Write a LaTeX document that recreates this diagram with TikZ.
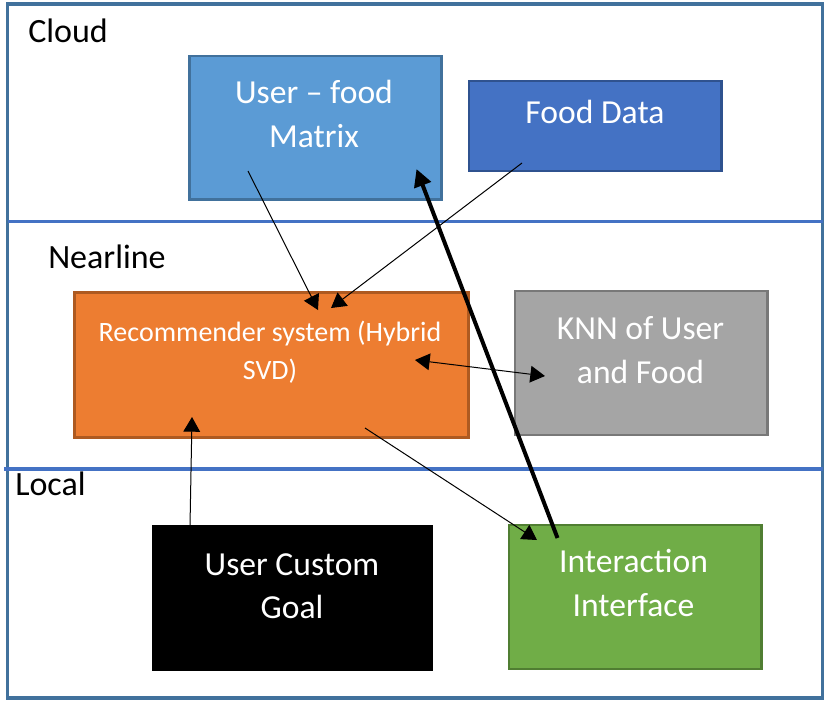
\documentclass[tikz,border=0pt]{standalone}
\usepackage{fontspec}
\setmainfont{Carlito}
\usetikzlibrary{arrows.meta,fit}
\definecolor{frameblue}{HTML}{41719C}
\definecolor{sepblue}{HTML}{4472C4}
\definecolor{umfill}{HTML}{5B9BD5}
\definecolor{umdraw}{HTML}{41719C}
\definecolor{fdfill}{HTML}{4472C4}
\definecolor{fddraw}{HTML}{2F528F}
\definecolor{rsfill}{HTML}{ED7D31}
\definecolor{rsdraw}{HTML}{AE5A21}
\definecolor{knnfill}{HTML}{A5A5A5}
\definecolor{knndraw}{HTML}{787878}
\definecolor{iifill}{HTML}{70AD47}
\definecolor{iidraw}{HTML}{507E32}
\tikzset{
  box/.style={rectangle, inner sep=0pt, line width=1.9pt},
  boxtext/.style={text=white, anchor=base, inner sep=0pt, font=\fontsize{25.2}{30}\selectfont},
  rstext/.style={text=white, anchor=base, inner sep=0pt, font=\fontsize{21}{25}\selectfont},
  region/.style={text=black, anchor=base west, inner sep=0pt, font=\fontsize{25.5}{30}\selectfont},
  thin arrow/.style={line width=0.75pt, -{Triangle[length=11pt,width=12.5pt]}},
  thick arrow/.style={line width=3pt, -{Triangle[length=13pt,width=13pt]}}
}
\begin{document}
\begin{tikzpicture}[x=0.75pt,y=-0.75pt]
\useasboundingbox (0,0) rectangle (834,701);
% frame and separators
\node[fit={(7.5,4) (822.5,698)}, inner sep=0pt, draw=frameblue, line width=2.3pt] (frame) {};
\draw[sepblue, line width=2.6pt] (7.5,221.7) -- (822.5,221.7);
\draw[sepblue, line width=2.6pt] (4,469) -- (822.5,469);
% region labels
\node[region] (cloud) at (28,42) {Cloud};
\node[region] (nearline) at (48,268.3) {Nearline};
\node[region] (local) at (15,495.7) {Local};
% boxes
\node[box, fill=umfill, draw=umdraw, fit={(189.5,56) (441.5,199.5)}] (um) {};
\node[box, fill=fdfill, draw=fddraw, fit={(469,81) (721.5,171)}] (fd) {};
\node[box, fill=rsfill, draw=rsdraw, fit={(74.5,292.5) (468.5,437.5)}] (rs) {};
\node[box, fill=knnfill, draw=knndraw, fit={(515,291) (767.5,435)}] (knn) {};
\node[box, fill=black, draw=black, fit={(153.5,526.5) (431.5,670)}] (ucg) {};
\node[box, fill=iifill, draw=iidraw, fit={(509,525) (761.5,669)}] (ii) {};
% box texts
\node[boxtext] (um1) at (314,103.3) {User – food};
\node[boxtext] (um2) at (314,147.7) {Matrix};
\node[boxtext] (fd1) at (595,123.3) {Food Data};
\node[rstext] (rs1) at (270,341.7) {Recommender system (Hybrid};
\node[rstext] (rs2) at (270,379) {SVD)};
\node[boxtext] (knn1) at (640.5,339.3) {KNN of User};
\node[boxtext] (knn2) at (640.5,383.3) {and Food};
\node[boxtext] (ucg1) at (292,575) {User Custom};
\node[boxtext] (ucg2) at (292,618.3) {Goal};
\node[boxtext] (ii1) at (633.5,572.7) {Interaction};
\node[boxtext] (ii2) at (633.5,616.7) {Interface};
% connector endpoints
\coordinate (a1s) at (248,171);
\coordinate (a1e) at (318,310);
\coordinate (a2s) at (522,163);
\coordinate (a2e) at (331,308);
\coordinate (a3s) at (415,360);
\coordinate (a3e) at (545,376);
\coordinate (a4s) at (190,526);
\coordinate (a4e) at (192,417);
\coordinate (a5s) at (365,428);
\coordinate (a5e) at (537,540);
\coordinate (a6s) at (557.5,538);
\coordinate (a6e) at (416.5,169);
% connectors
\draw[thin arrow] (a1s) -- (a1e);
\draw[thin arrow] (a2s) -- (a2e);
\draw[line width=0.75pt, {Triangle[length=11pt,width=12.5pt]}-{Triangle[length=11pt,width=12.5pt]}] (a3s) -- (a3e);
\draw[thin arrow] (a4s) -- (a4e);
\draw[thin arrow] (a5s) -- (a5e);
\draw[thick arrow] (a6s) -- (a6e);
\end{tikzpicture}
\end{document}
